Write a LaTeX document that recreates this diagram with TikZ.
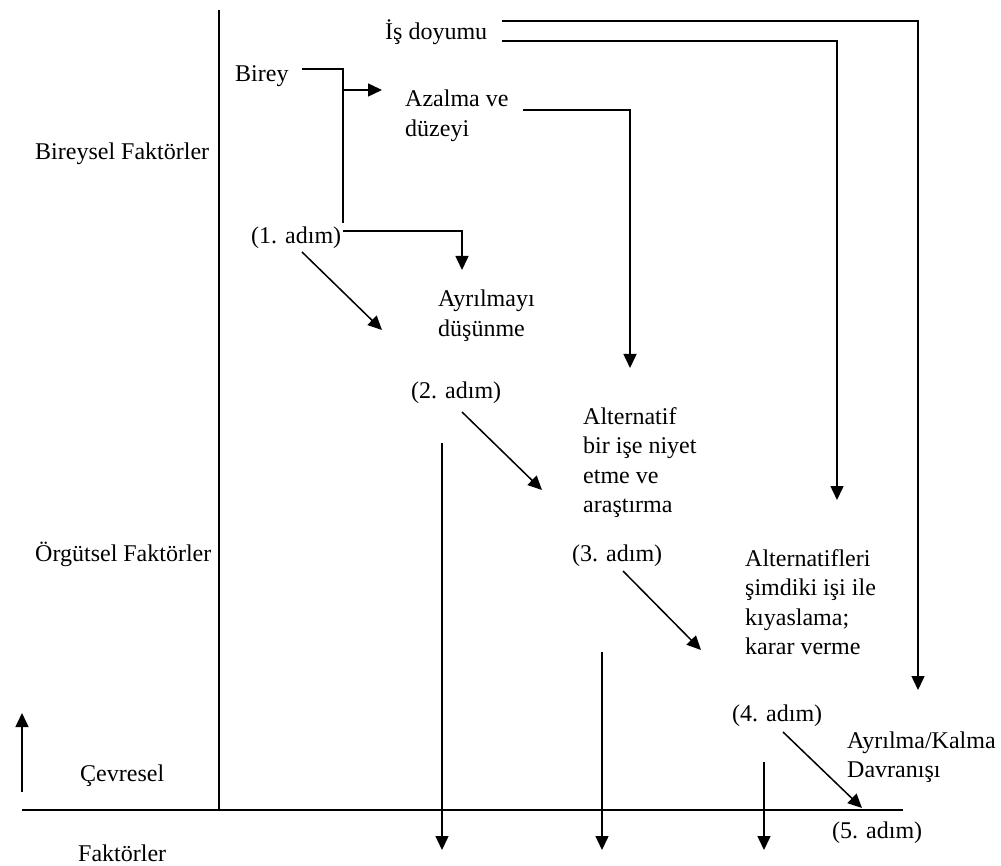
\documentclass[tikz,border=0pt]{standalone}
\usepackage{fontspec}
\setmainfont{Liberation Serif}
\usetikzlibrary{arrows.meta}
\newcommand{\mlbl}[1]{\begin{tabular}[t]{@{}l@{}}#1\end{tabular}}
\begin{document}
\begin{tikzpicture}[x=1pt,y=-1pt,
  lbl/.style={inner sep=0pt,anchor=base west,font=\fontsize{24}{29.5}\selectfont},
  axis/.style={line width=2.8pt},
  conn/.style={line width=1.5pt},
  arr/.style={conn,-{Triangle[length=14pt,width=13pt]}}]
\useasboundingbox (0,0) rectangle (1001,866);
% axes
\coordinate (vtop) at (219,10);
\coordinate (orig) at (219,810);
\coordinate (hl) at (22,810);
\coordinate (hr) at (903,810);
\draw[axis] (vtop) -- (orig);
\draw[axis] (hl) -- (hr);
\coordinate (upS) at (22,792);
\coordinate (upE) at (22,713);
\draw[arr] (upS) -- (upE);
% side labels
\node[lbl] (bf) at (35,160) {Bireysel Faktörler};
\node[lbl] (of) at (35,561) {Örgütsel Faktörler};
\node[lbl] (cv) at (80,781) {Çevresel};
\node[lbl] (cf) at (78,861) {Faktörler};
% main texts
\node[lbl] (is) at (385,40) {İş doyumu};
\node[lbl] (bir) at (235,82) {Birey};
\node[lbl] (az) at (405,107) {\mlbl{Azalma ve\\düzeyi}};
\node[lbl] (a1) at (251,244) {(1. adım)};
\node[lbl] (ay) at (438,307) {\mlbl{Ayrılmayı\\düşünme}};
\node[lbl] (a2) at (411,399) {(2. adım)};
\node[lbl] (alt) at (583,424) {\mlbl{Alternatif\\bir işe niyet\\etme ve\\araştırma}};
\node[lbl] (a3) at (572,561) {(3. adım)};
\node[lbl] (alts) at (745,566) {\mlbl{Alternatifleri\\şimdiki işi ile\\kıyaslama;\\karar verme}};
\node[lbl] (a4) at (732,721) {(4. adım)};
\node[lbl] (akd) at (847,748) {\mlbl{Ayrılma/Kalma\\Davranışı}};
\node[lbl] (a5) at (832,838) {(5. adım)};
% job satisfaction lines
\coordinate (is1) at (502,21);
\coordinate (is1e) at (918,690);
\draw[arr] (is1) -| (is1e);
\coordinate (is2) at (502,41);
\coordinate (is2e) at (837,500);
\draw[arr] (is2) -| (is2e);
% azalma
\coordinate (azS) at (523,110);
\coordinate (azE) at (630,368);
\draw[arr] (azS) -| (azE);
% birey
\coordinate (bS) at (302,69);
\coordinate (bC) at (343,69);
\coordinate (bD) at (343,223);
\draw[conn] (bS) -- (bC) -- (bD);
\coordinate (bA) at (343,90);
\coordinate (bAe) at (382,90);
\draw[arr] (bA) -- (bAe);
% step 1 branch
\coordinate (s1S) at (343,231);
\coordinate (s1E) at (462,270);
\draw[arr] (s1S) -| (s1E);
% diagonals
\coordinate (d1s) at (302,252); \coordinate (d1e) at (382,330);
\draw[arr] (d1s) -- (d1e);
\coordinate (d2s) at (462,412); \coordinate (d2e) at (542,490);
\draw[arr] (d2s) -- (d2e);
\coordinate (d3s) at (623,571); \coordinate (d3e) at (701,650);
\draw[arr] (d3s) -- (d3e);
\coordinate (d4s) at (783,732); \coordinate (d4e) at (862,808);
\draw[arr] (d4s) -- (d4e);
% verticals down
\coordinate (v1s) at (442,443); \coordinate (v1e) at (442,850);
\draw[arr] (v1s) -- (v1e);
\coordinate (v2s) at (602,652); \coordinate (v2e) at (602,850);
\draw[arr] (v2s) -- (v2e);
\coordinate (v3s) at (764,762); \coordinate (v3e) at (764,850);
\draw[arr] (v3s) -- (v3e);
\end{tikzpicture}
\end{document}
